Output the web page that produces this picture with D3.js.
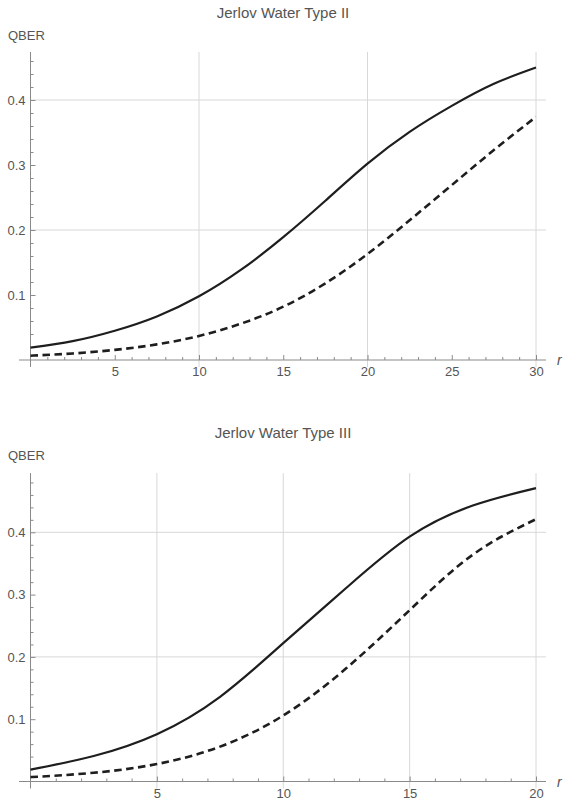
<!DOCTYPE html>
<html>
<head>
<meta charset="utf-8">
<script src="https://cdn.jsdelivr.net/npm/d3@7/dist/d3.min.js"></script>
<style>
  html, body { margin: 0; padding: 0; background: #fff; }
  svg { display: block; }
  text { font-family: "Liberation Sans", Arial, sans-serif; fill: #555; }
</style>
</head>
<body>
<svg id="chart" width="565" height="805"></svg>
<script>
// Jerlov water type II: distance r and QBER for the two curves
const rTypeII = [0, 2.5, 5, 7.5, 10, 12.5, 15, 17.5, 20, 22.5, 25, 27.5, 30];
const qberTypeIISolid = [0.019, 0.029, 0.045, 0.067, 0.098, 0.139, 0.189, 0.245, 0.302, 0.351, 0.391, 0.425, 0.450];
const qberTypeIIDashed = [0.0066, 0.010, 0.0156, 0.024, 0.037, 0.056, 0.082, 0.118, 0.163, 0.215, 0.269, 0.323, 0.374];

// Jerlov water type III
const rTypeIII = [0, 2.5, 5, 7.5, 10, 12.5, 15, 17.5, 20];
const qberTypeIIISolid = [0.019, 0.041, 0.076, 0.136, 0.222, 0.311, 0.393, 0.443, 0.471];
const qberTypeIIIDashed = [0.007, 0.014, 0.028, 0.056, 0.106, 0.182, 0.275, 0.364, 0.421];

// Tick values
const xTicksII = [5, 10, 15, 20, 25, 30];
const xGridII = [10, 20, 30];
const xTicksIII = [5, 10, 15, 20];
const xGridIII = [5, 10, 15, 20];
const yTicks = [0.1, 0.2, 0.3, 0.4];
const yGrid = [0.2, 0.4];

const titles = ["Jerlov Water Type II", "Jerlov Water Type III"];

const svg = d3.select("#chart");

function drawPanel(opt) {
  const g = svg.append("g");
  const x = d3.scaleLinear().domain([0, opt.xMax]).range([30.5, 536]);
  const y = d3.scaleLinear().domain([0, 0.4]).range([opt.y0, opt.y04]);

  const xLo = x.invert(19), xHi = x.invert(546);
  const yLo = y.invert(opt.y0 + 7), yHi = opt.yTop;

  // grid
  g.selectAll(".vgrid").data(opt.xGrid).join("line")
    .attr("x1", d => x(d)).attr("x2", d => x(d))
    .attr("y1", y(yLo)).attr("y2", y(yHi))
    .attr("stroke", "#d8d8d8").attr("stroke-width", 1);
  g.selectAll(".hgrid").data(yGrid).join("line")
    .attr("x1", x(0)).attr("x2", x(xHi))
    .attr("y1", d => y(d)).attr("y2", d => y(d))
    .attr("stroke", "#d8d8d8").attr("stroke-width", 1);

  // axis lines
  g.append("line").attr("x1", x(xLo)).attr("x2", x(xHi))
    .attr("y1", y(0)).attr("y2", y(0)).attr("stroke", "#8a8a8a").attr("stroke-width", 1);
  g.append("line").attr("x1", x(0)).attr("x2", x(0))
    .attr("y1", y(yLo)).attr("y2", y(yHi)).attr("stroke", "#8a8a8a").attr("stroke-width", 1);

  // x ticks (major with labels, minor every 1)
  const xAxis = d3.axisBottom(x).tickValues(opt.xTicks).tickSize(-5).tickPadding(7)
    .tickFormat(d3.format("d"));
  const gx = g.append("g").attr("transform", `translate(0,${y(0)})`).call(xAxis);
  gx.select(".domain").remove();
  gx.selectAll(".tick line").attr("stroke", "#8a8a8a");
  gx.selectAll(".tick text").attr("font-size", 13).style("fill", "#555")
    .attr("font-family", "Liberation Sans, Arial, sans-serif");

  const minorX = d3.range(1, opt.xMax + 1).filter(v => v % 5 !== 0);
  const gxm = g.append("g").attr("transform", `translate(0,${y(0)})`)
    .call(d3.axisBottom(x).tickValues(minorX).tickSize(-3).tickFormat(""));
  gxm.select(".domain").remove();
  gxm.selectAll(".tick line").attr("stroke", "#8a8a8a");

  // y ticks
  const yAxis = d3.axisLeft(y).tickValues(yTicks).tickSize(-5).tickPadding(5)
    .tickFormat(d3.format(".1f"));
  const gy = g.append("g").attr("transform", `translate(${x(0)},0)`).call(yAxis);
  gy.select(".domain").remove();
  gy.selectAll(".tick line").attr("stroke", "#8a8a8a");
  gy.selectAll(".tick text").attr("font-size", 13).style("fill", "#555")
    .attr("font-family", "Liberation Sans, Arial, sans-serif");

  const minorY = d3.range(1, Math.floor(yHi * 50) + 1).map(i => i / 50).filter(v => Math.round(v * 50) % 5 !== 0);
  const gym = g.append("g").attr("transform", `translate(${x(0)},0)`)
    .call(d3.axisLeft(y).tickValues(minorY).tickSize(-3).tickFormat(""));
  gym.select(".domain").remove();
  gym.selectAll(".tick line").attr("stroke", "#8a8a8a");

  // curves
  const line = d3.line().x(d => x(d[0])).y(d => y(d[1])).curve(d3.curveNatural);
  const solid = opt.r.map((r, i) => [r, opt.solid[i]]);
  const dashed = opt.r.map((r, i) => [r, opt.dashed[i]]);
  g.append("path").attr("d", line(solid)).attr("fill", "none")
    .attr("stroke", "#1e1e1e").attr("stroke-width", 2.2);
  g.append("path").attr("d", line(dashed)).attr("fill", "none")
    .attr("stroke", "#1e1e1e").attr("stroke-width", 2.6)
    .attr("stroke-dasharray", "7.5,4.5");

  // labels
  g.append("text").attr("x", 283).attr("y", opt.titleY).attr("text-anchor", "middle")
    .attr("font-size", 15).text(opt.title);
  g.append("text").attr("x", 8).attr("y", opt.qberY).attr("font-size", 13).text("QBER");
  g.append("text").attr("x", 557).attr("y", y(0) + 5).attr("font-size", 14)
    .attr("font-style", "italic").text("r");
}

drawPanel({
  xMax: 30, y0: 360, y04: 100, yTop: 0.474,
  xTicks: xTicksII, xGrid: xGridII,
  r: rTypeII, solid: qberTypeIISolid, dashed: qberTypeIIDashed,
  title: titles[0], titleY: 18, qberY: 40
});

drawPanel({
  xMax: 20, y0: 781.5, y04: 532.3, yTop: 0.495,
  xTicks: xTicksIII, xGrid: xGridIII,
  r: rTypeIII, solid: qberTypeIIISolid, dashed: qberTypeIIIDashed,
  title: titles[1], titleY: 438, qberY: 460
});
</script>
</body>
</html>
